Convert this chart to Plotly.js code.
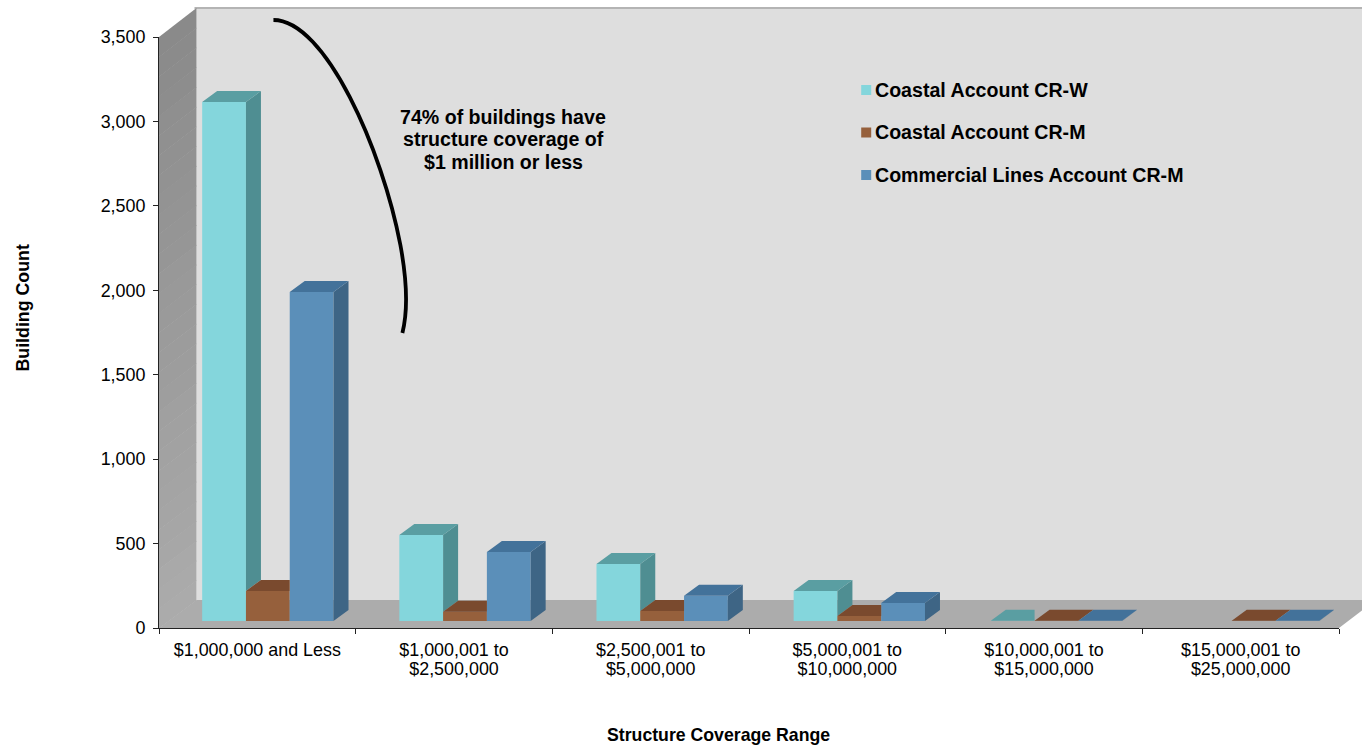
<!DOCTYPE html>
<html><head><meta charset="utf-8">
<script src="https://cdn.plot.ly/plotly-3.0.1.min.js"></script>
<style>html,body{margin:0;padding:0;background:#fff;overflow:hidden}</style>
</head><body><div id="chart" style="width:1362px;height:747px"></div>
<script>
const categories = ['$1,000,000 and Less','$1,000,001 to','$2,500,001 to','$5,000,001 to','$10,000,001 to','$15,000,001 to'];
const categoriesLine2 = ['','$2,500,000','$5,000,000','$10,000,000','$15,000,000','$25,000,000'];
const coastalW = [3073, 509, 337, 178, 1, 0];
const coastalM = [178, 55, 59, 30, 2, 1];
const commercial = [1948, 408, 150, 107, 1, 1];
const seriesNames = ['Coastal Account CR-W','Coastal Account CR-M','Commercial Lines Account CR-M'];
const yTicks = [0,500,1000,1500,2000,2500,3000,3500];
const noteLines = ['74% of buildings have','structure coverage of','$1 million or less'];

const W=1362,H=747,L=158.5,R=1339,T=37,B=628;
const px2x=p=>(p-L)/(R-L), px2y=p=>(B-p)/(B-T);
const unitX=(R-L)/6, unitY=(B-T)/3500;
const barW=43.8/unitX, barStart=0.2195, barStep=1.0025, baseY=7/unitY, depthX=15/unitX, depthY=11/unitY;
const series=[coastalW,coastalM,commercial];
const fronts=['#84D6DC','#96603C','#5B8FB9'];
const sides=['#4F8E92','#6F4429','#3E6585'];
const tops=['#5A9EA2','#7A4A2E','#43729A'];

const data=[];
series.forEach((vals,s)=>{
  data.push({type:'bar',name:seriesNames[s],x:vals.map((_,i)=>i*barStep+barStart+(s+0.5)*barW),y:vals,base:baseY,width:barW,
    marker:{color:fronts[s],line:{width:0}},showlegend:false,hoverinfo:'y'});
});
series.forEach((vals,s)=>{
  const sx=[],sy=[],tx=[],ty=[];
  vals.forEach((v,i)=>{
    if(v<=0) return;
    const x0=i*barStep+barStart+s*barW,x1=x0+barW,top=baseY+v;
    const next=s<2?series[s+1][i]:0;
    if(v>next){
      sx.push(x1,x1+depthX,x1+depthX,x1,x1,null);
      sy.push(top,top+depthY,baseY+next+depthY,baseY+next,top,null);
    }
    const clip=s<2&&next>v;
    tx.push(x0,x0+depthX,clip?x1:x1+depthX,x1,x0,null);
    ty.push(top,top+depthY,top+depthY,top,top,null);
  });
  data.push({type:'scatter',mode:'lines',x:sx,y:sy,fill:'toself',fillcolor:sides[s],line:{width:0},showlegend:false,hoverinfo:'skip'});
  data.push({type:'scatter',mode:'lines',x:tx,y:ty,fill:'toself',fillcolor:tops[s],line:{width:0},showlegend:false,hoverinfo:'skip'});
});
// carries the second line of the x tick labels
data.push({type:'scatter',mode:'none',xaxis:'x2',yaxis:'y',x:[0,6],y:[0,0],showlegend:false,hoverinfo:'skip'});

const pt=p=>px2x(p[0]).toFixed(5)+','+px2y(p[1]).toFixed(5);
const poly=(pts,fill)=>({type:'path',xref:'paper',yref:'paper',layer:'below',
  path:'M'+pts.map(pt).join('L')+'Z',fillcolor:fill,line:{width:0}});
const shapes=[];
shapes.push(poly([[196,8],[1380,8],[1380,600],[196,600]],'#DEDEDE'));
shapes.push({type:'line',xref:'paper',yref:'paper',layer:'below',x0:px2x(194),x1:px2x(1380),y0:px2y(8),y1:px2y(8),line:{color:'#B4B4B4',width:2}});
const bands=30;
for(let b=0;b<bands;b++){
  const t0=b/bands,t1=(b+1)/bands,g=Math.round(138+t0*34);
  shapes.push(poly([[158.5,37+t0*591],[196,8+t0*592],[196,8+t1*592+0.6],[158.5,37+t1*591+0.6]],`rgb(${g},${g},${g})`));
}
shapes.push(poly([[158.5,628],[196,600],[1376,600],[1339,628]],'#ACACAC'));
const legendY=[90,132.5,175];
legendY.forEach((y,i)=>shapes.push(poly([[861,y-5],[871,y-5],[871,y+5],[861,y+5]],fronts[i])));
shapes.push({type:'path',xref:'paper',yref:'paper',layer:'above',line:{color:'#000',width:3.8},fillcolor:'rgba(0,0,0,0)',
  path:'M'+pt([273,20])+'C'+pt([325,20])+' '+pt([382,150])+' '+pt([400,245])+'C'+pt([405,272])+' '+pt([409,305])+' '+pt([402,333])});

const font='"Liberation Sans",Arial,sans-serif';
const ann=(text,x,y,size,bold,extra)=>Object.assign({xref:'paper',yref:'paper',x:px2x(x),y:px2y(y),text:bold?'<b>'+text+'</b>':text,showarrow:false,
  font:{family:font,size:size,color:'#000'},xanchor:'center',yanchor:'middle'},extra||{});
const annotations=[];
seriesNames.forEach((n,i)=>annotations.push(ann(n,875,legendY[i],19.6,true,{xanchor:'left',xshift:-2})));
annotations.push(ann(noteLines[0],503,117,19.6,true));
annotations.push(ann(noteLines[1],503,139,19.6,true));
annotations.push(ann(noteLines[2],503,162,19.6,true));
annotations.push(ann('Building Count',22,308,17.8,true,{textangle:-90}));
annotations.push(ann('Structure Coverage Range',718,735,17.7,true));

const tickVals=categories.map((_,i)=>i+0.5);
const layout={width:W,height:H,margin:{l:L,r:W-R,t:T,b:H-B,pad:0},paper_bgcolor:'#fff',plot_bgcolor:'rgba(0,0,0,0)',
  barmode:'overlay',showlegend:false,shapes,annotations,font:{family:font,size:17.9,color:'#000'},
  xaxis:{type:'linear',range:[0,6],tickmode:'array',tickvals:tickVals,ticktext:categories,ticks:'',ticklen:0,
    ticklabelstandoff:6,tickangle:0,showgrid:false,zeroline:false,showline:true,linecolor:'#222',linewidth:1,
    minor:{tickmode:'array',tickvals:[0,1,2,3,4,5,6],ticks:'outside',ticklen:5,tickcolor:'#222',tickwidth:1,showgrid:false},
    tickfont:{family:font,size:17.9,color:'#000'}},
  xaxis2:{type:'linear',overlaying:'x',anchor:'y',side:'bottom',range:[0,6],tickmode:'array',tickvals:tickVals,ticktext:categoriesLine2,ticks:'',ticklen:0,
    ticklabelstandoff:28,tickangle:0,showgrid:false,zeroline:false,showline:false,tickfont:{family:font,size:17.9,color:'#000'}},
  yaxis:{type:'linear',range:[0,3500],tickmode:'array',tickvals:yTicks,tickformat:',d',ticks:'outside',ticklen:5,tickcolor:'#222',tickwidth:1,
    ticklabelstandoff:4,showgrid:false,zeroline:false,showline:true,linecolor:'#222',linewidth:1,tickfont:{family:font,size:17.9,color:'#000'}}
};
Plotly.newPlot('chart',data,layout,{displayModeBar:false,staticPlot:true});
</script></body></html>
